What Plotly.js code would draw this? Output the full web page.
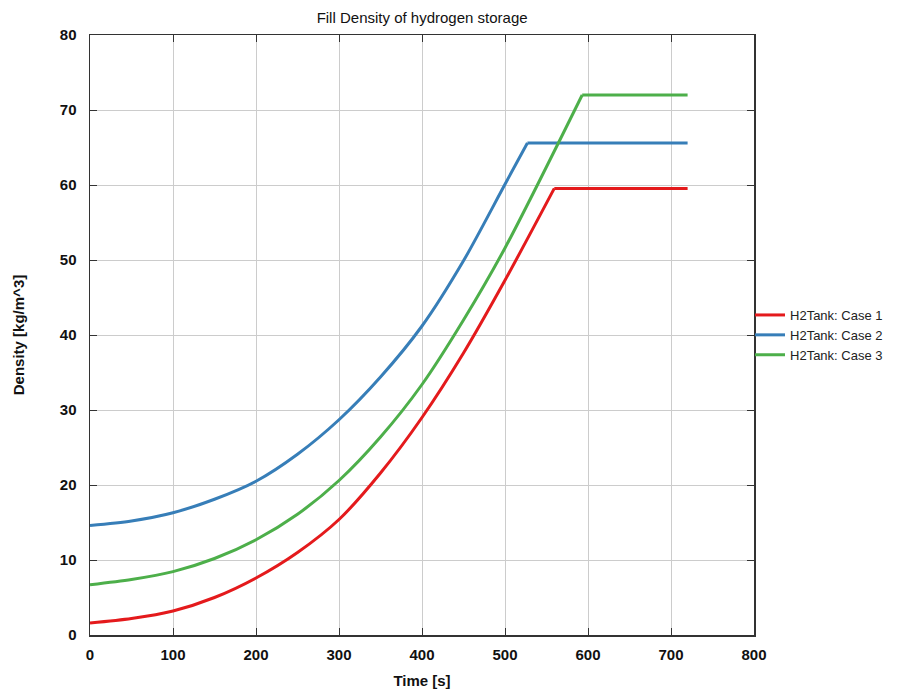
<!DOCTYPE html>
<html>
<head>
<meta charset="utf-8">
<script src="https://cdn.plot.ly/plotly-3.0.1.min.js"></script>
<style>
  html, body { margin: 0; padding: 0; background: #fff; }
  #chart { width: 900px; height: 695px; }
</style>
</head>
<body>
<div id="chart"></div>
<script>
// Fill density of the hydrogen tank over time for three cases.
// Each case: a filling curve that ends at the tank's final density, then a hold.
const timeCase1 = [0, 50, 100, 150, 200, 250, 300, 350, 400, 450, 500, 559.4, 720];
const densityCase1 = [1.6, 2.2, 3.2, 5.0, 7.6, 11.0, 15.4, 21.6, 29.0, 37.6, 47.3, 59.55, 59.55];

const timeCase2 = [0, 50, 100, 150, 200, 250, 300, 350, 400, 450, 500, 527, 720];
const densityCase2 = [14.6, 15.2, 16.3, 18.1, 20.5, 24.1, 28.7, 34.4, 41.2, 49.9, 60.1, 65.6, 65.6];

const timeCase3 = [0, 50, 100, 150, 200, 250, 300, 350, 400, 450, 500, 593, 720];
const densityCase3 = [6.7, 7.4, 8.45, 10.2, 12.7, 16.1, 20.6, 26.4, 33.4, 42.0, 51.6, 72.0, 72.0];

const seriesNames = ['H2Tank: Case 1', 'H2Tank: Case 2', 'H2Tank: Case 3'];
const seriesColors = ['#e41a1c', '#377eb8', '#4daf4a'];

const xTicks = [0, 100, 200, 300, 400, 500, 600, 700, 800];
const yTicks = [0, 10, 20, 30, 40, 50, 60, 70, 80];

const xs = [timeCase1, timeCase2, timeCase3];
const ys = [densityCase1, densityCase2, densityCase3];

// Smooth filling phase (up to the last-but-one point) drawn as a spline,
// the constant hold phase drawn as a straight segment.
const traces = [];
xs.forEach((x, i) => {
  const n = x.length;
  traces.push({
    type: 'scatter', mode: 'lines',
    x: x.slice(0, n - 1), y: ys[i].slice(0, n - 1),
    name: seriesNames[i], legendgroup: 'g' + i,
    line: { color: seriesColors[i], width: 3, shape: 'spline', smoothing: 0.8 }
  });
  traces.push({
    type: 'scatter', mode: 'lines',
    x: x.slice(n - 2), y: ys[i].slice(n - 2),
    name: seriesNames[i], legendgroup: 'g' + i, showlegend: false,
    line: { color: seriesColors[i], width: 3 }
  });
});

const fontFamily = 'Liberation Sans, Arial, sans-serif';

const axisCommon = {
  showline: true,
  linecolor: '#333',
  linewidth: 1.5,
  mirror: 'ticks',
  ticks: 'inside',
  ticklen: 7,
  tickwidth: 1,
  tickcolor: '#333',
  showgrid: true,
  gridcolor: '#cccccc',
  gridwidth: 1,
  zeroline: false,
  automargin: false,
  tickfont: { family: fontFamily, size: 15, color: '#111', weight: 'bold' }
};

const layout = {
  width: 900,
  height: 695,
  paper_bgcolor: '#ffffff',
  plot_bgcolor: '#ffffff',
  margin: { l: 90, r: 146, t: 35, b: 60 },
  showlegend: true,
  title: {
    text: 'Fill Density of hydrogen storage',
    font: { family: fontFamily, size: 15, color: '#111' },
    x: 0.469, xanchor: 'center',
    y: 0.974, yanchor: 'middle'
  },
  xaxis: Object.assign({}, axisCommon, {
    range: [0, 800],
    tickvals: xTicks,
    ticktext: xTicks.map(String),
    ticklabelstandoff: 5,
    title: { text: 'Time [s]', font: { family: fontFamily, size: 15, color: '#111', weight: 'bold' }, standoff: 14 }
  }),
  yaxis: Object.assign({}, axisCommon, {
    range: [0, 80],
    tickvals: yTicks,
    ticktext: yTicks.map(String),
    ticklabelstandoff: 9,
    title: { text: 'Density [kg/m^3]', font: { family: fontFamily, size: 15, color: '#111', weight: 'bold' }, standoff: 31 }
  }),
  legend: {
    x: 0.994, xanchor: 'left',
    y: 0.5, yanchor: 'middle',
    font: { family: fontFamily, size: 13, color: '#222' },
    bgcolor: 'rgba(0,0,0,0)',
    tracegroupgap: 0,
    itemwidth: 30
  }
};

Plotly.newPlot('chart', traces, layout, { displayModeBar: false, staticPlot: true });
</script>
</body>
</html>
